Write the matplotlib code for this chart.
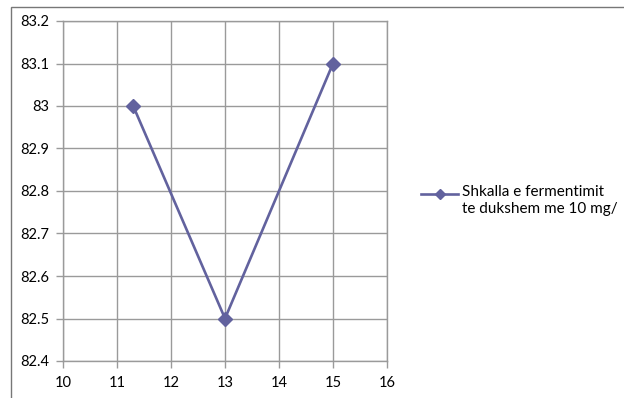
import matplotlib.pyplot as plt
from matplotlib.patches import Rectangle
from matplotlib.lines import Line2D

# Fermentation level against temperature
x_vals = [11.3, 13, 15]
y_vals = [83.0, 82.5, 83.1]
series_label = "Shkalla e fermentimit\nte dukshem me 10 mg/"
x_ticks = [10, 11, 12, 13, 14, 15, 16]
y_ticks = [82.4, 82.5, 82.6, 82.7, 82.8, 82.9, 83.0, 83.1, 83.2]
y_tick_labels = ["82.4", "82.5", "82.6", "82.7", "82.8", "82.9", "83", "83.1", "83.2"]

plt.rcParams['font.family'] = ['Lato', 'DejaVu Sans']

W, H = 624, 398
fig = plt.figure(figsize=(W / 100, H / 100), dpi=100)

# outer chart border (only top and left edges visible)
fig.patches.append(Rectangle((11 / W, -0.1), 1.2, (H - 7) / H + 0.1,
                             transform=fig.transFigure, fill=False,
                             edgecolor='#777777', linewidth=1.0))

ax = fig.add_axes([63 / W, 1 - 361 / H, (387 - 63) / W, (361 - 21) / H])
line_color = '#62629e'
grid_color = '#9a9a9a'

ax.plot(x_vals, y_vals, color=line_color, linewidth=1.9, marker='D',
        markersize=7, zorder=3)

ax.set_xlim(10, 16)
ax.set_ylim(82.4, 83.2)
ax.set_xticks(x_ticks)
ax.set_yticks(y_ticks)
ax.set_yticklabels(y_tick_labels)
ax.grid(True, color=grid_color, linewidth=1.0)
ax.set_axisbelow(True)
for side in ['left', 'bottom', 'right', 'top']:
    ax.spines[side].set_color(grid_color)
    ax.spines[side].set_linewidth(1.0)
ax.tick_params(axis='both', colors=grid_color, length=5, width=1.0,
               labelcolor='black', labelsize=10.5)
ax.tick_params(axis='y', pad=5)
ax.tick_params(axis='x', pad=6)

# legend entry, key aligned with the first text line
key_y = 1 - 194 / H
fig.lines.append(Line2D([421 / W, 458 / W], [key_y, key_y], transform=fig.transFigure,
                        color=line_color, linewidth=1.9))
fig.lines.append(Line2D([440 / W], [key_y], transform=fig.transFigure,
                        color=line_color, marker='D', markersize=5.5))
fig.text(462 / W, 1 - 185 / H, series_label, fontsize=11, va='top', ha='left',
         linespacing=1.25)

fig.savefig('out.png', dpi=100)
